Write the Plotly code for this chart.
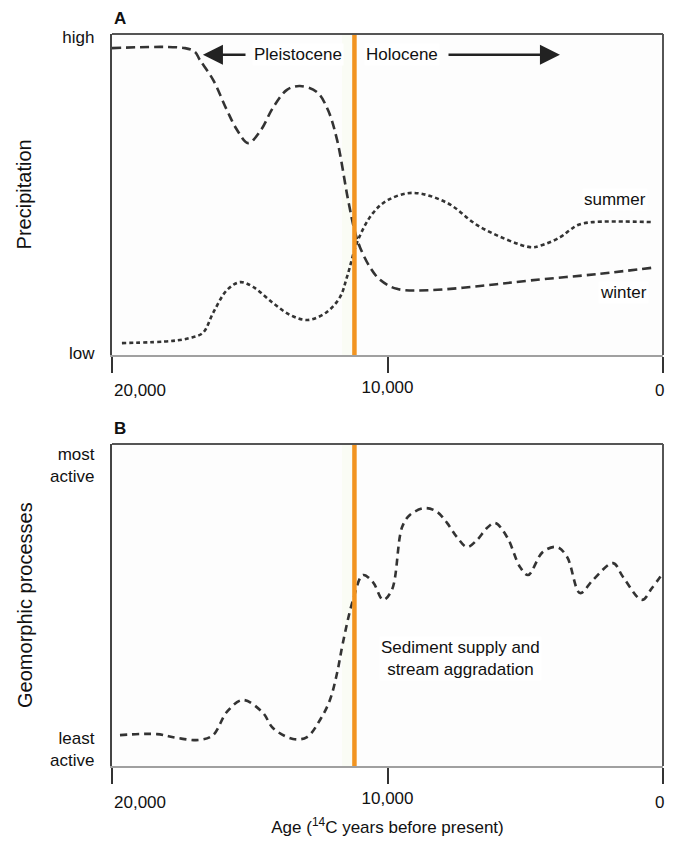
import plotly.graph_objects as go

# ---------------- data ----------------
# Panel A: precipitation (0 = low, 1 = high)
winter_age = [20000, 17350, 16990, 16810, 16330, 15830, 15460, 15060, 14600, 14160, 13650, 13180,
              12560, 12160, 11830, 11430, 11180, 11000, 10640, 10270, 9660, 8460, 6640, 4830, 2400, 360]
winter_val = [0.956, 0.956, 0.944, 0.919, 0.857, 0.763, 0.701, 0.660, 0.700, 0.770, 0.826, 0.838,
              0.819, 0.763, 0.670, 0.483, 0.383, 0.336, 0.274, 0.234, 0.206, 0.202, 0.215, 0.232, 0.252, 0.272]

summer_age = [19640, 17790, 17170, 16700, 16330, 15830, 15350, 14880, 14160, 13540, 12890, 12200,
              11720, 11470, 11070, 10530, 9980, 9070, 7840, 6640, 4830, 4470, 3730, 3380, 3090, 2540, 360]
summer_val = [0.037, 0.044, 0.053, 0.069, 0.131, 0.202, 0.227, 0.212, 0.162, 0.125, 0.109, 0.134,
              0.181, 0.243, 0.358, 0.442, 0.483, 0.505, 0.474, 0.399, 0.336, 0.340, 0.367, 0.389, 0.405, 0.414, 0.414]

# Panel B: geomorphic activity (0 = least, 1 = most)
geo_age = [19710, 18370, 17640, 16810, 16330, 15830, 15250, 14520, 14160, 13430, 12920, 12450, 12090,
           11830, 11620, 11250, 10890, 10530, 10160, 9840, 9470, 9180, 8640, 8200, 7840, 7480, 7110,
           6750, 6390, 6100, 5660, 5190, 4900, 4360, 3850, 3480, 3010, 2540, 1810, 1450, 760, 400, 0]
geo_val = [0.096, 0.099, 0.087, 0.081, 0.096, 0.168, 0.205, 0.165, 0.118, 0.084, 0.090, 0.143, 0.205,
           0.289, 0.382, 0.516, 0.593, 0.571, 0.516, 0.547, 0.742, 0.780, 0.801, 0.789, 0.755, 0.711, 0.680,
           0.702, 0.739, 0.755, 0.711, 0.618, 0.593, 0.665, 0.680, 0.649, 0.537, 0.578, 0.630, 0.587, 0.516, 0.553, 0.599]

boundary_age = 11200          # Pleistocene / Holocene boundary
x_ticks = [20000, 10000, 0]
x_tick_text = ["", "10,000", ""]

FONT = "Liberation Sans, Arial, sans-serif"
INK = "#333333"
TXT = "#111111"
ORANGE = "#F29421"
FS = 17

fig = go.Figure()

fig.add_trace(go.Scatter(x=winter_age, y=winter_val, mode="lines", line_shape="spline",
                         line=dict(color=INK, width=2.6, dash="9px,5px"), xaxis="x", yaxis="y",
                         showlegend=False, hoverinfo="skip"))
fig.add_trace(go.Scatter(x=summer_age, y=summer_val, mode="lines", line_shape="spline",
                         line=dict(color=INK, width=2.6, dash="4px,3px"), xaxis="x", yaxis="y",
                         showlegend=False, hoverinfo="skip"))
fig.add_trace(go.Scatter(x=geo_age, y=geo_val, mode="lines", line_shape="spline",
                         line=dict(color=INK, width=2.6, dash="7px,5px"), xaxis="x2", yaxis="y2",
                         showlegend=False, hoverinfo="skip"))

shapes = []
annotations = []
for xa, ya in (("x", "y"), ("x2", "y2")):
    shapes.append(dict(type="rect", xref=xa, yref=ya + " domain", x0=11650, x1=boundary_age, y0=0, y1=1,
                       fillcolor="rgba(249,251,242,0.8)", line=dict(width=0), layer="below"))
    shapes.append(dict(type="line", xref=xa, yref=ya + " domain", x0=boundary_age, x1=boundary_age,
                       y0=0, y1=1, line=dict(color=ORANGE, width=4.5)))
    shapes.append(dict(type="line", xref=xa + " domain", yref=ya + " domain", x0=0, x1=1, y0=1, y1=1,
                       line=dict(color="#555555", width=2.2)))
    shapes.append(dict(type="line", xref=xa + " domain", yref=ya + " domain", x0=1, x1=1, y0=0, y1=1,
                       line=dict(color="#555555", width=2)))
    annotations.append(dict(text="20,000", xref=xa, yref=ya + " domain", x=20000, y=0, yshift=-36,
                            xanchor="left", yanchor="middle", showarrow=False,
                            font=dict(family=FONT, size=FS, color=TXT)))
    annotations.append(dict(text="0", xref=xa, yref=ya + " domain", x=0, y=0, yshift=-36, xshift=3,
                            xanchor="right", yanchor="middle", showarrow=False,
                            font=dict(family=FONT, size=FS, color=TXT)))

annotations += [
    dict(text="<b>A</b>", xref="x domain", yref="y domain", x=0, y=1.0, yshift=4, xanchor="left",
         yanchor="bottom", showarrow=False, font=dict(family=FONT, size=17, color=TXT)),
    dict(text="<b>B</b>", xref="x2 domain", yref="y2 domain", x=0, y=1.0, yshift=4, xanchor="left",
         yanchor="bottom", showarrow=False, font=dict(family=FONT, size=17, color=TXT)),
    dict(text="Precipitation", xref="paper", yref="y domain", x=-0.158, y=0.5, textangle=-90,
         xanchor="center", yanchor="middle", showarrow=False, font=dict(family=FONT, size=20, color=TXT)),
    dict(text="Geomorphic processes", xref="paper", yref="y2 domain", x=-0.158, y=0.5, textangle=-90,
         xanchor="center", yanchor="middle", showarrow=False, font=dict(family=FONT, size=20, color=TXT)),
    dict(text="Pleistocene", xref="x", yref="y", x=13250, y=0.935, showarrow=False, bgcolor="white",
         font=dict(family=FONT, size=FS, color=TXT)),
    dict(text="", xref="x", yref="y", x=16700, y=0.935, ax=15100, ay=0.935, axref="x", ayref="y",
         showarrow=True, arrowhead=2, arrowsize=1.6, arrowwidth=2.5, arrowcolor="#222"),
    dict(text="Holocene", xref="x", yref="y", x=9470, y=0.935, showarrow=False, bgcolor="white",
         font=dict(family=FONT, size=FS, color=TXT)),
    dict(text="", xref="x", yref="y", x=3740, y=0.935, ax=7840, ay=0.935, axref="x", ayref="y",
         showarrow=True, arrowhead=2, arrowsize=1.6, arrowwidth=2.5, arrowcolor="#222"),
    dict(text="summer", xref="x", yref="y", x=1750, y=0.483, showarrow=False, bgcolor="white",
         font=dict(family=FONT, size=FS, color=TXT)),
    dict(text="winter", xref="x", yref="y", x=1450, y=0.195, showarrow=False, bgcolor="white",
         font=dict(family=FONT, size=FS, color=TXT)),
    dict(text="Sediment supply and<br>stream aggradation", xref="x2", yref="y2", x=7350, y=0.335,
         showarrow=False, bgcolor="white", font=dict(family=FONT, size=FS, color=TXT)),
]

common_x = dict(range=[20000, 0], tickmode="array", tickvals=x_ticks, ticktext=x_tick_text,
                ticks="outside", ticklen=16, tickwidth=2, tickcolor="#333", showline=True,
                linecolor="#a0a0a0", linewidth=1.5, showgrid=False, zeroline=False, automargin=False,
                tickfont=dict(family=FONT, size=FS, color=TXT), fixedrange=True)
common_y = dict(range=[0, 1], showline=True, linecolor="#444444", linewidth=2.2, ticks="",
                showgrid=False, zeroline=False, tickmode="array", ticklabelstandoff=12, automargin=False,
                tickfont=dict(family=FONT, size=FS, color=TXT), fixedrange=True)

# page body adds an 8px offset, so the figure is 8px smaller and margins shifted
fig.update_layout(
    width=667, height=836,
    margin=dict(l=104, r=12, t=26, b=78),
    paper_bgcolor="white", plot_bgcolor="#fdfdfd",
    xaxis=dict(common_x, domain=[0, 1], anchor="y"),
    yaxis=dict(common_y, domain=[0.5615, 1.0], anchor="x", tickvals=[0.005, 0.99], ticktext=["low", "high"]),
    xaxis2=dict(common_x, domain=[0, 1], anchor="y2",
                title=dict(text="Age (<sup>14</sup>C years before present)", standoff=14,
                           font=dict(family=FONT, size=FS, color=TXT))),
    yaxis2=dict(common_y, domain=[0.0, 0.4399], anchor="x2", tickvals=[0.053, 0.935],
                ticktext=["least<br>active", "most<br>active"]),
    shapes=shapes, annotations=annotations,
)

fig.write_html("out.html")
